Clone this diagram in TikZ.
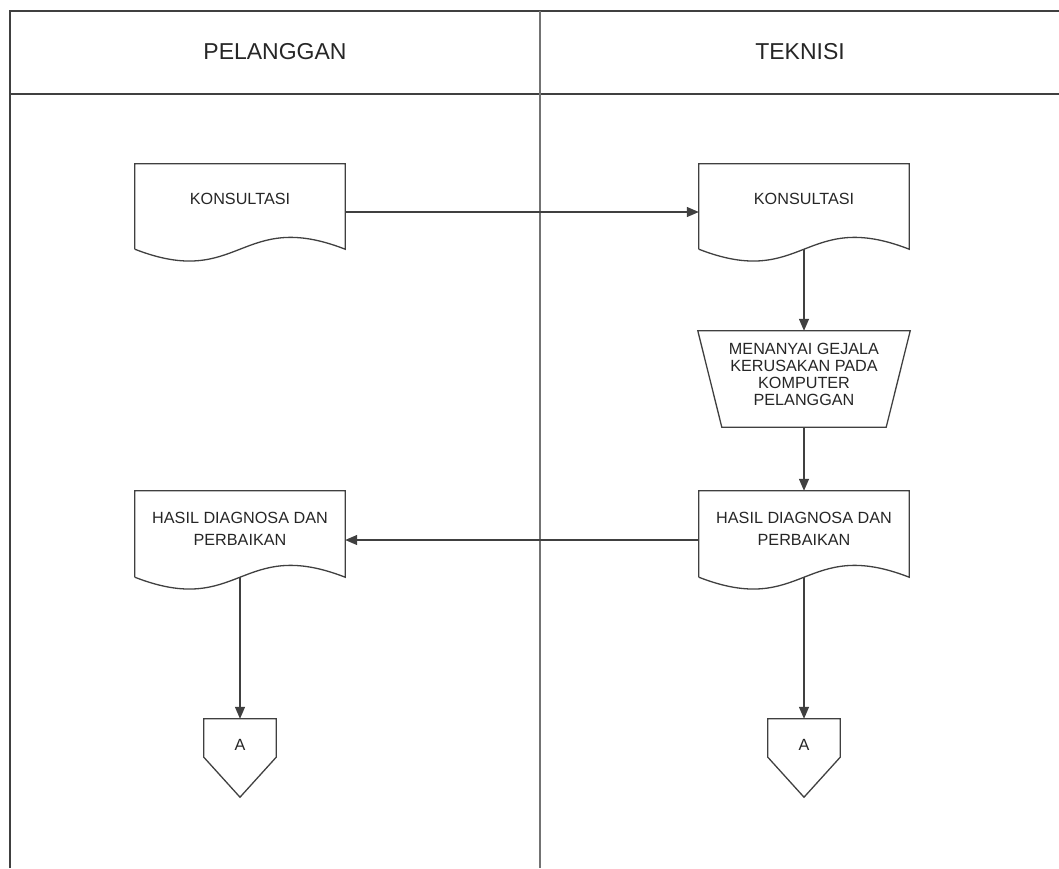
\documentclass[tikz,border=0pt]{standalone}
\usepackage{fontspec}
\setmainfont{Liberation Sans}
\usetikzlibrary{arrows.meta}
\newcommand\docoutline[1]{%
  \draw[ln] (#1.south west) -- (#1.north west) -- (#1.north east) -- (#1.south east)
    .. controls ([yshift=41pt]#1.south) and ([yshift=-41pt]#1.south) .. (#1.south west);}
\newcommand\offpageoutline[1]{%
  \draw[ln] (#1.north west) -- (#1.north east) -- (#1.south east) -- ([yshift=-40pt]#1.south) -- (#1.south west) -- cycle;}
\begin{document}
\begin{tikzpicture}[x=1pt,y=-1pt,
  ln/.style={draw=black!75, line width=1.3pt},
  lane/.style={draw=black!55, line width=1.3pt},
  shapebox/.style={draw=none, rectangle, inner sep=0pt},
  docbox/.style={shapebox, minimum width=210pt, minimum height=85pt},
  txt/.style={font=\fontsize{16.2}{21.7}\selectfont, align=center, text=black!85, inner sep=0pt},
  tighttxt/.style={font=\fontsize{16.2}{17}\selectfont, align=center, text=black!85, inner sep=0pt},
  hdr/.style={font=\fontsize{23}{26}\selectfont, text=black!85, inner sep=0pt},
  arr/.style={ln, -{Triangle[length=12pt,width=10pt]}},
]
\useasboundingbox (0,0) rectangle (1059,868);

% frame
\draw[ln] (10,868) -- (10,11) -- (1062,11);
\draw[ln] (10,94) -- (1062,94);
\draw[lane] (540,11) -- (540,868);

\node[hdr] (lanep) at (275,52) {PELANGGAN};
\node[hdr] (lanet) at (800,52) {TEKNISI};

% documents
\node[docbox] (k1) at (240,206.5) {};
\node[docbox] (k2) at (804,206.5) {};
\node[docbox, minimum height=86pt] (h1) at (240,534) {};
\node[docbox, minimum height=86pt] (h2) at (804,534) {};
\docoutline{k1}
\docoutline{k2}
\docoutline{h1}
\docoutline{h2}
\node[txt] (k1t) at ([yshift=-35pt]k1.north) {KONSULTASI};
\node[txt] (k2t) at ([yshift=-35pt]k2.north) {KONSULTASI};
\node[txt] (h1t) at ([yshift=-38pt]h1.north) {HASIL DIAGNOSA DAN\\PERBAIKAN};
\node[txt] (h2t) at ([yshift=-38pt]h2.north) {HASIL DIAGNOSA DAN\\PERBAIKAN};

% manual operation
\node[shapebox, minimum width=212pt, minimum height=96pt] (m) at (804,379) {};
\draw[ln] (m.north west) -- (m.north east) -- ([xshift=-24pt]m.south east) -- ([xshift=24pt]m.south west) -- cycle;
\node[tighttxt] (mt) at ([yshift=-44pt]m.north) {MENANYAI GEJALA\\KERUSAKAN PADA\\KOMPUTER\\PELANGGAN};

% off-page connectors
\node[shapebox, minimum width=72pt, minimum height=38pt] (c1) at (240,738) {};
\node[shapebox, minimum width=72pt, minimum height=38pt] (c2) at (804,738) {};
\offpageoutline{c1}
\offpageoutline{c2}
\node[txt] (c1t) at ([yshift=-26pt]c1.north) {A};
\node[txt] (c2t) at ([yshift=-26pt]c2.north) {A};

% connectors
\draw[arr] ([yshift=-5.5pt]k1.east) -- ([yshift=-5.5pt]k2.west);
\draw[arr] (k2.south) -- (m.north);
\draw[arr] (m.south) -- (h2.north);
\draw[arr] ([yshift=-6pt]h2.west) -- ([yshift=-6pt]h1.east);
\draw[arr] (h1.south) -- (c1.north);
\draw[arr] (h2.south) -- (c2.north);
\end{tikzpicture}
\end{document}
